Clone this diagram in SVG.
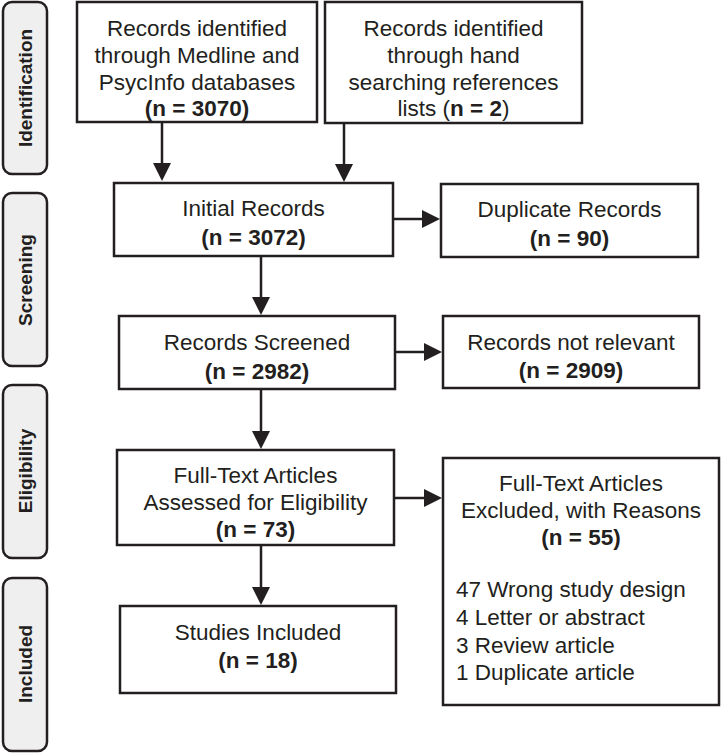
<svg xmlns="http://www.w3.org/2000/svg" width="721" height="753" viewBox="0 0 721 753">
<style>
.bg{fill:#ffffff}
.box{fill:#ffffff;stroke:#231f20;stroke-width:2.5}
.side{fill:#efeff0;stroke:#231f20;stroke-width:2.5}
.t{font-family:"Liberation Sans",Arial,sans-serif;font-size:22.5px;fill:#231f20;text-anchor:middle}
.l{font-family:"Liberation Sans",Arial,sans-serif;font-size:22.5px;fill:#231f20;text-anchor:start}
.b{font-weight:bold}
.s{font-family:"Liberation Sans",Arial,sans-serif;font-size:19px;font-weight:bold;fill:#231f20;text-anchor:middle}
.c{stroke:#231f20;stroke-width:2.5;fill:none;marker-end:url(#ah)}
</style>
<defs>
<marker id="ah" viewBox="0 0 18 18" refX="1" refY="9" markerWidth="18" markerHeight="18" markerUnits="userSpaceOnUse" orient="auto">
<path d="M0,0 L18,9 L0,18 z" fill="#231f20"/>
</marker>
</defs>
<rect class="bg" x="0" y="0" width="721" height="753"/>

<g id="stage-identification">
<rect class="side" x="3" y="2" width="44" height="172" rx="9"/>
<text class="s" transform="translate(32,88) rotate(-90)">Identification</text>
</g>
<g id="stage-screening">
<rect class="side" x="3" y="193" width="44" height="173" rx="9"/>
<text class="s" transform="translate(32,280) rotate(-90)">Screening</text>
</g>
<g id="stage-eligibility">
<rect class="side" x="3" y="385" width="44" height="173" rx="9"/>
<text class="s" transform="translate(32,471) rotate(-90)">Eligibility</text>
</g>
<g id="stage-included">
<rect class="side" x="3" y="578" width="44" height="173" rx="9"/>
<text class="s" transform="translate(32,664) rotate(-90)">Included</text>
</g>

<g id="connectors">
<line class="c" x1="162" y1="122" x2="162" y2="164"/>
<line class="c" x1="344" y1="123" x2="344" y2="165"/>
<line class="c" x1="393" y1="219" x2="423" y2="219"/>
<line class="c" x1="261" y1="256" x2="261" y2="298"/>
<line class="c" x1="395" y1="352" x2="425" y2="352"/>
<line class="c" x1="261" y1="389" x2="261" y2="432"/>
<line class="c" x1="394" y1="498" x2="425" y2="498"/>
<line class="c" x1="261" y1="545" x2="261" y2="588"/>
</g>

<g id="records-medline">
<rect class="box" x="77" y="2" width="240" height="120"/>
<text class="t" x="197" y="36">Records identified</text>
<text class="t" x="197" y="63">through Medline and</text>
<text class="t" x="197" y="90">PsycInfo databases</text>
<text class="t b" x="197" y="116">(n = 3070)</text>
</g>
<g id="records-hand">
<rect class="box" x="325" y="2" width="257" height="121"/>
<text class="t" x="453.5" y="36">Records identified</text>
<text class="t" x="453.5" y="63">through hand</text>
<text class="t" x="453.5" y="90">searching references</text>
<text class="t" x="453.5" y="116">lists (<tspan class="b">n = 2</tspan>)</text>
</g>
<g id="initial-records">
<rect class="box" x="114" y="183" width="279" height="73"/>
<text class="t" x="253.5" y="216">Initial Records</text>
<text class="t b" x="253.5" y="245">(n = 3072)</text>
</g>
<g id="duplicate-records">
<rect class="box" x="441" y="184" width="257" height="73"/>
<text class="t" x="569.5" y="217">Duplicate Records</text>
<text class="t b" x="569.5" y="246">(n = 90)</text>
</g>
<g id="records-screened">
<rect class="box" x="119" y="316" width="276" height="73"/>
<text class="t" x="257" y="350">Records Screened</text>
<text class="t b" x="257" y="379">(n = 2982)</text>
</g>
<g id="records-not-relevant">
<rect class="box" x="443" y="316" width="256" height="72"/>
<text class="t" x="571" y="350">Records not relevant</text>
<text class="t b" x="571" y="378">(n = 2909)</text>
</g>
<g id="full-text-assessed">
<rect class="box" x="117" y="450" width="277" height="95"/>
<text class="t" x="255.5" y="483">Full-Text Articles</text>
<text class="t" x="255.5" y="510">Assessed for Eligibility</text>
<text class="t b" x="255.5" y="537">(n = 73)</text>
</g>
<g id="full-text-excluded">
<rect class="box" x="443" y="458" width="276" height="247"/>
<text class="t" x="581" y="491">Full-Text Articles</text>
<text class="t" x="581" y="518">Excluded, with Reasons</text>
<text class="t b" x="581" y="545">(n = 55)</text>
<text class="l" x="456" y="597">47 Wrong study design</text>
<text class="l" x="456" y="625">4 Letter or abstract</text>
<text class="l" x="456" y="653">3 Review article</text>
<text class="l" x="456" y="680">1 Duplicate article</text>
</g>
<g id="studies-included">
<rect class="box" x="120" y="606" width="276" height="87"/>
<text class="t" x="258" y="640">Studies Included</text>
<text class="t b" x="258" y="668">(n = 18)</text>
</g>
</svg>
